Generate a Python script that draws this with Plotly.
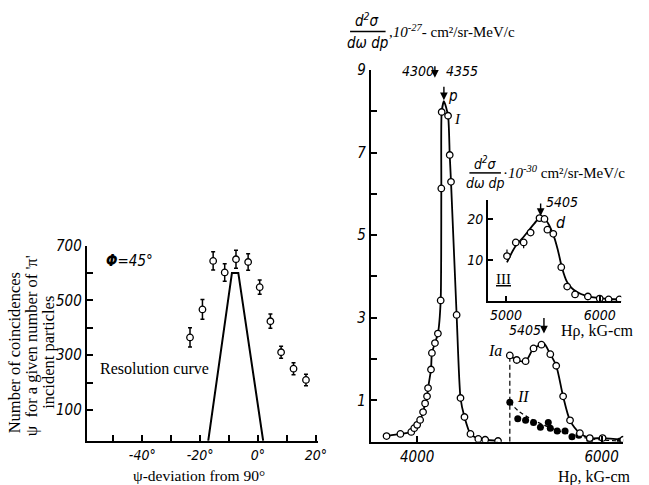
import plotly.graph_objects as go

W, H = 649, 485

# ---------------- left panel: coincidences vs. psi ----------------
psi_deg = [-23.5, -19.2, -15.5, -11.5, -7.6, -3.4, 0.6, 4.3, 8.0, 12.3, 16.6]
coinc = [365, 467, 644, 602, 650, 640, 548, 424, 311, 251, 210]
coinc_err = [35, 36, 33, 32, 33, 30, 26, 26, 22, 22, 21]

LEFT_YMIN = -12
res_x = [-17.2, -9.0, -6.8, 1.8]
res_y = [LEFT_YMIN, 600, 600, LEFT_YMIN]

left_xtickvals = [-50, -40, -30, -20, -10, 0, 10, 20]
left_xticktext = ["", "-40°", "", "-20°", "", "0°", "", "20°"]
left_ytickvals = [100, 200, 300, 400, 500, 600, 700]
left_yticktext = ["100", "", "300", "", "500", "", "700"]

# ---------------- right panel: momentum spectra ----------------
# curve I (protons), open circles
hr_I = [3668, 3818, 3936, 3968, 4000, 4032, 4064, 4086, 4107, 4118, 4150, 4160,
        4193, 4225, 4255, 4262, 4266, 4335, 4353, 4367, 4428, 4470, 4513, 4578,
        4663, 4738, 4877]
sig_I = [0.14, 0.19, 0.24, 0.33, 0.41, 0.53, 0.72, 0.93, 1.10, 1.30, 1.75, 2.15,
         2.39, 2.62, 3.42, 6.13, 7.98, 7.89, 6.94, 6.29, 3.07, 1.06, 0.60, 0.19,
         0.07, 0.05, 0.02]
peak_I_x, peak_I_y = 4290, 8.24  # apex of the drawn curve I

# curve Ia, open circles
hr_Ia = [5005, 5080, 5176, 5262, 5348, 5444, 5508, 5583, 5658, 5765, 5872, 6011, 6235]
sig_Ia = [2.09, 1.98, 1.95, 2.26, 2.35, 2.12, 1.84, 1.10, 0.52, 0.21, 0.09, 0.09, 0.05]
peak_Ia_x, peak_Ia_y = 5375, 2.38

# curve II, filled circles, with dashed trend
hr_II = [5005, 5091, 5176, 5262, 5337, 5422, 5444, 5519, 5604, 5679, 5754, 5872, 6203]
sig_II = [0.96, 0.56, 0.52, 0.47, 0.35, 0.47, 0.33, 0.26, 0.26, 0.12, 0.16, 0.05, 0.02]
hr_II_fit = [5005, 5100, 5200, 5300, 5400, 5500, 5600, 5700, 5800, 5900, 6000, 6100, 6230]
sig_II_fit = [0.96, 0.74, 0.60, 0.48, 0.38, 0.29, 0.22, 0.16, 0.11, 0.07, 0.05, 0.03, 0.02]

main_xtickvals = [4000, 6000]
main_ytickvals = [1, 2, 3, 4, 5, 6, 7, 8, 9]
main_yticktext = ["1", "", "3", "", "5", "", "7", "", "9"]

# inset: curve III (deuterons), units of 1e-30
hr_III = [5011, 5105, 5189, 5263, 5358, 5411, 5442, 5505, 5590, 5653, 5737, 5874, 6000, 6095, 6211]
sig_III = [11.0, 14.3, 14.3, 16.7, 20.2, 20.0, 17.4, 16.4, 8.3, 3.6, 1.7, 1.2, 0.7, 0.5, 0.5]
sig_III_up = [1.6, 0, 0, 1.2, 0, 0, 0, 0, 0, 0, 0, 0, 0, 0, 0]
sig_III_dn = [0, 0, 1.4, 0, 0, 0, 0, 0, 0, 0, 0, 0, 0, 0, 0]
hr_III_fit = [5011, 5100, 5200, 5300, 5370, 5430, 5500, 5550, 5600, 5650, 5700, 5750,
              5800, 5900, 6000, 6100, 6220]
sig_III_fit = [9.5, 13.3, 16.0, 18.8, 20.5, 19.6, 16.5, 12.8, 8.0, 4.8, 3.3, 2.4,
               1.8, 1.1, 0.8, 0.6, 0.5]
peak_III_x, peak_III_y = 5370, 20.5
inset_xtickvals = [5000, 6000]
inset_ytickvals = [10, 20]

NUM_FONT = "Liberation Sans Narrow, DejaVu Sans Condensed, Liberation Sans, sans-serif"
SERIF = "Liberation Serif, DejaVu Serif, serif"
BLACK = "black"


def fx(p):
    return p / W


def fy(p):
    return 1 - p / H


open_marker = dict(symbol="circle", size=6.5, color="white", line=dict(color=BLACK, width=1.3))

fig = go.Figure()

# left panel
fig.add_trace(go.Scatter(x=res_x, y=res_y, mode="lines", line=dict(color=BLACK, width=2),
                         xaxis="x", yaxis="y", showlegend=False))
fig.add_trace(go.Scatter(x=psi_deg, y=coinc, mode="markers", marker=open_marker,
                         error_y=dict(type="data", array=coinc_err, color=BLACK,
                                      thickness=1.5, width=2),
                         xaxis="x", yaxis="y", showlegend=False))

# right panel: curve I
cI = sorted(zip(hr_I + [peak_I_x], sig_I + [peak_I_y]))
fig.add_trace(go.Scatter(x=[c[0] for c in cI], y=[c[1] for c in cI], mode="lines",
                         line=dict(color=BLACK, width=1.8, shape="spline", smoothing=0.6),
                         xaxis="x2", yaxis="y2", showlegend=False))
fig.add_trace(go.Scatter(x=hr_I, y=sig_I, mode="markers", marker=open_marker,
                         xaxis="x2", yaxis="y2", showlegend=False))

# curve II (dashed trend + filled points)
fig.add_trace(go.Scatter(x=hr_II_fit, y=sig_II_fit, mode="lines",
                         line=dict(color=BLACK, width=1.3, dash="4px,3px", shape="spline"),
                         xaxis="x2", yaxis="y2", showlegend=False))
fig.add_trace(go.Scatter(x=hr_II, y=sig_II, mode="markers",
                         marker=dict(symbol="circle", size=7, color=BLACK),
                         xaxis="x2", yaxis="y2", showlegend=False))

# vertical dashed line at the start of Ia
fig.add_trace(go.Scatter(x=[hr_Ia[0], hr_Ia[0]], y=[0, sig_Ia[0]], mode="lines",
                         line=dict(color=BLACK, width=1.2, dash="5px,3px"),
                         xaxis="x2", yaxis="y2", showlegend=False))

# curve Ia
cIa = sorted(zip(hr_Ia + [peak_Ia_x], sig_Ia + [peak_Ia_y]))
fig.add_trace(go.Scatter(x=[c[0] for c in cIa], y=[c[1] for c in cIa], mode="lines",
                         line=dict(color=BLACK, width=1.8, shape="spline", smoothing=0.8),
                         xaxis="x2", yaxis="y2", showlegend=False))
fig.add_trace(go.Scatter(x=hr_Ia, y=sig_Ia, mode="markers", marker=open_marker,
                         xaxis="x2", yaxis="y2", showlegend=False))

# inset: curve III
fig.add_trace(go.Scatter(x=hr_III_fit, y=sig_III_fit, mode="lines",
                         line=dict(color=BLACK, width=1.8, shape="spline", smoothing=0.8),
                         xaxis="x3", yaxis="y3", showlegend=False))
fig.add_trace(go.Scatter(x=hr_III, y=sig_III, mode="markers", marker=open_marker,
                         error_y=dict(type="data", symmetric=False, array=sig_III_up,
                                      arrayminus=sig_III_dn, color=BLACK, thickness=1.2, width=0),
                         xaxis="x3", yaxis="y3", showlegend=False))

axis_common = dict(showline=True, linecolor=BLACK, linewidth=2, mirror=False,
                   ticks="inside", ticklen=6, tickwidth=1.5, tickcolor=BLACK,
                   showgrid=False, zeroline=False,
                   tickfont=dict(family=NUM_FONT, size=15, color=BLACK, style="italic"))
inset_font = dict(family=NUM_FONT, size=14, color=BLACK, style="italic")

fig.update_layout(
    width=W, height=H, margin=dict(l=0, r=0, t=0, b=0), autosize=False,
    paper_bgcolor="white", plot_bgcolor="rgba(0,0,0,0)",
    xaxis=dict(axis_common, domain=[fx(88), fx(322)], range=[-59.2, 20.6], anchor="y",
               tickmode="array", tickvals=left_xtickvals, ticktext=left_xticktext,
               tickfont=dict(family=NUM_FONT, size=14, color=BLACK, style="italic")),
    yaxis=dict(axis_common, domain=[fy(440), fy(241)], range=[LEFT_YMIN, 700], anchor="x",
               tickmode="array", tickvals=left_ytickvals, ticktext=left_yticktext),
    xaxis2=dict(axis_common, domain=[fx(376), fx(632)], range=[3497, 6235], anchor="y2",
                tickmode="array", tickvals=main_xtickvals, ticktext=["4000", "6000"]),
    yaxis2=dict(axis_common, domain=[fy(441), fy(62)], range=[0, 9], anchor="x2",
                tickmode="array", tickvals=main_ytickvals, ticktext=main_yticktext),
    xaxis3=dict(axis_common, domain=[fx(495), fx(630)], range=[4810, 6230], anchor="y3",
                tickmode="array", tickvals=inset_xtickvals, ticktext=["5000", "6000"],
                tickfont=inset_font, ticklen=5),
    yaxis3=dict(axis_common, domain=[fy(298), fy(195)], range=[0, 24.5], anchor="x3",
                tickmode="array", tickvals=inset_ytickvals, ticktext=["10", "20"],
                tickfont=inset_font, ticklen=5),
)

ann = []


def text(x, y, s, size=14, family=SERIF, italic=False, angle=0, xanchor="center",
         yanchor="middle"):
    ann.append(dict(x=fx(x), y=fy(y), xref="paper", yref="paper", text=s, showarrow=False,
                    xanchor=xanchor, yanchor=yanchor, textangle=angle, borderpad=0,
                    font=dict(family=family, size=size, color=BLACK,
                              style="italic" if italic else "normal")))


def arrow(xref, yref, x, y, length, yshift=0):
    ann.append(dict(x=x, y=y, xref=xref, yref=yref, ax=0, ay=-length, axref="pixel",
                    ayref="pixel", text="", showarrow=True, arrowhead=2, arrowsize=1.1,
                    arrowwidth=1.4, arrowcolor=BLACK, standoff=1, yshift=yshift))


# left panel texts
text(131, 257, "<b>Φ</b>=45°", size=15, family=NUM_FONT, italic=True)
text(157, 366, "Resolution curve", size=16)
text(202, 466, "ψ-deviation from 90°", size=15.5, yanchor="top")
text(15, 350, "Number of coincidences", size=16.5, angle=-90)
text(32, 343, "ψ  for a given number of 'π'", size=16.5, angle=-90)
text(49, 350, "incident particles", size=16.5, angle=-90)

# right panel: axis title (fraction)
text(372, 22, "d<sup>2</sup>σ", size=15, family=NUM_FONT, italic=True, yanchor="bottom")
text(373, 24, "dω dp", size=15, family=NUM_FONT, italic=True, yanchor="top")
fig.add_shape(type="line", xref="paper", yref="paper", x0=fx(355), x1=fx(391),
              y0=fy(23), y1=fy(23), line=dict(color=BLACK, width=1.5))
text(393, 22, ",<i>10<sup>-27</sup></i>- cm²/sr-MeV/c", size=15, xanchor="left")

text(603, 477, "Hρ, kG-cm", size=16)

# peak annotations on curve I
text(424, 63, "4300", size=14, family=NUM_FONT, italic=True)
text(469, 63, "4355", size=14, family=NUM_FONT, italic=True)
ann.append(dict(x=fx(441), y=fy(70), xref="paper", yref="paper", ax=0, ay=-13,
                text="", showarrow=True, arrowhead=2, arrowsize=1.1, arrowwidth=1.4,
                arrowcolor=BLACK))
arrow("x2", "y2", peak_I_x, peak_I_y, 16)
text(459, 89, "p", size=15, family=NUM_FONT, italic=True)
text(464, 112, "I", size=15, family=SERIF, italic=True)

# Ia / II labels
text(502, 348, "Ia", size=16, family=SERIF, italic=True)
text(530, 395, "II", size=16, family=SERIF, italic=True)
text(532, 327, "5405", size=14, family=NUM_FONT, italic=True)
arrow("x2", "y2", peak_Ia_x, peak_Ia_y, 18, yshift=9)

# inset labels
text(492, 167, "d<sup>2</sup>σ", size=14, family=NUM_FONT, italic=True, yanchor="bottom")
text(492, 168, "dω dp", size=14, family=NUM_FONT, italic=True, yanchor="top")
fig.add_shape(type="line", xref="paper", yref="paper", x0=fx(476), x1=fx(508),
              y0=fy(167), y1=fy(167), line=dict(color=BLACK, width=1.5))
text(509, 166, "·<i>10<sup>-30</sup></i> cm²/sr-MeV/c", size=15, xanchor="left")
text(570, 197, "5405", size=14, family=NUM_FONT, italic=True)
arrow("x3", "y3", peak_III_x, peak_III_y, 15)
text(569, 218, "d", size=16, family=NUM_FONT, italic=True)
text(511, 275, "<u>III</u>", size=15, family=SERIF)
text(606, 328, "Hρ, kG-cm", size=16)

fig.update_layout(annotations=ann)
fig.write_html("out.html")

# page without default body margin
with open("out.html", encoding="utf-8") as f:
    page = f.read()
page = page.replace("<head>", "<head><style>html,body{margin:0;padding:0;overflow:hidden;}</style>", 1)
with open("out.html", "w", encoding="utf-8") as f:
    f.write(page)
